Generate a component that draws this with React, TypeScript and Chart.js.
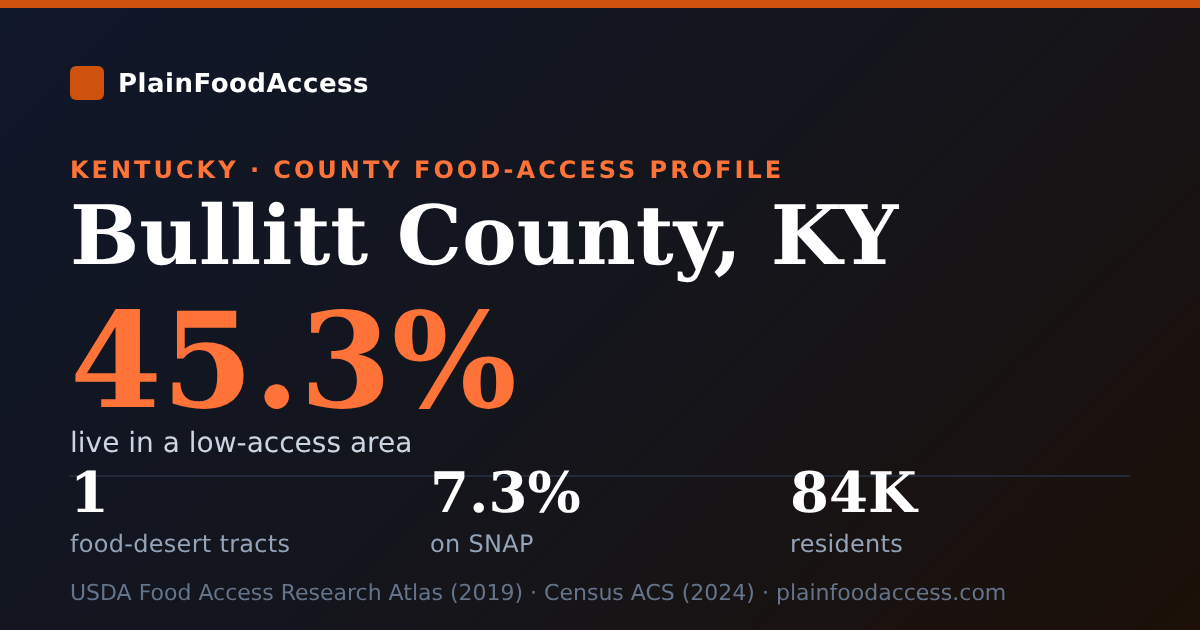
import React, { useEffect, useRef } from "react";
import { Chart, registerables } from "chart.js";

Chart.register(...registerables);

const brand = "PlainFoodAccess";
const eyebrow = "KENTUCKY · COUNTY FOOD-ACCESS PROFILE";
const county = "Bullitt County, KY";
const heroValue = "45.3%";
const heroLabel = "live in a low-access area";
const statValues = ["1", "7.3%", "84K"];
const statLabels = ["food-desert tracts", "on SNAP", "residents"];
const source = "USDA Food Access Research Atlas (2019) · Census ACS (2024) · plainfoodaccess.com";

const SANS = '"DejaVu Sans", sans-serif';
const SERIF = '"DejaVu Serif", serif';

const abs = (left: number, top: number, size: number, extra: React.CSSProperties = {}): React.CSSProperties => ({
  position: "absolute",
  left,
  top,
  fontSize: size,
  lineHeight: `${Math.round(size * 1.2)}px`,
  fontFamily: SANS,
  whiteSpace: "nowrap",
  margin: 0,
  ...extra,
});

export default function App() {
  const ref = useRef<HTMLCanvasElement | null>(null);

  useEffect(() => {
    document.body.style.margin = "0";
    document.body.style.background = "#0f172a";
    const chart = new Chart(ref.current!, {
      type: "scatter",
      data: { datasets: [{ data: [] }] },
      options: {
        animation: false,
        responsive: false,
        devicePixelRatio: 1,
        layout: { padding: { left: 70, right: 71, top: 476, bottom: 10 } },
        plugins: { legend: { display: false }, tooltip: { enabled: false }, title: { display: false } },
        scales: {
          x: {
            position: "top",
            min: 0,
            max: 1,
            grid: { display: false, drawTicks: false },
            ticks: { display: false },
            border: { display: true, color: "#222a39", width: 2 },
          },
          y: { display: false },
        },
      },
    });
    return () => chart.destroy();
  }, []);

  return (
    <div
      style={{
        position: "relative",
        width: 1200,
        height: 630,
        overflow: "hidden",
        textRendering: "geometricPrecision",
        background: "linear-gradient(135deg, #0f172a 0%, #15151a 58%, #1c1008 100%)",
      }}
    >
      <canvas ref={ref} width={1200} height={630} style={{ position: "absolute", left: 0, top: 0, width: 1200, height: 630 }} />
      <div style={{ position: "absolute", left: 0, top: 0, width: 1200, height: 8, background: "#ce520c" }} />
      <div style={{ position: "absolute", left: 70, top: 66, width: 34, height: 34, borderRadius: 6, background: "#ce520c" }} />
      <div style={abs(118, 69, 26, { fontWeight: 700, color: "#ffffff", letterSpacing: "0.5px" })}>{brand}</div>
      <div style={abs(70, 156, 24, { fontWeight: 700, color: "#ff7338", letterSpacing: "3px" })}>{eyebrow}</div>
      <h1 style={abs(70, 187, 82, { fontFamily: SERIF, fontWeight: 700, color: "#ffffff" })}>{county}</h1>
      <div style={abs(70, 283, 132, { fontFamily: SERIF, fontWeight: 700, color: "#ff7338" })}>{heroValue}</div>
      <div style={abs(70, 426, 28, { color: "#cbd5e1" })}>{heroLabel}</div>
      {statValues.map((v, i) => (
        <React.Fragment key={v}>
          <div style={abs(70 + i * 360, 460, 56, { fontFamily: SERIF, fontWeight: 700, color: "#ffffff" })}>{v}</div>
          <div style={abs(70 + i * 360, 530, 24, { color: "#94a3b8", letterSpacing: "0.3px" })}>{statLabels[i]}</div>
        </React.Fragment>
      ))}
      <div style={abs(70, 581, 22, { color: "#64748b" })}>{source}</div>
    </div>
  );
}
